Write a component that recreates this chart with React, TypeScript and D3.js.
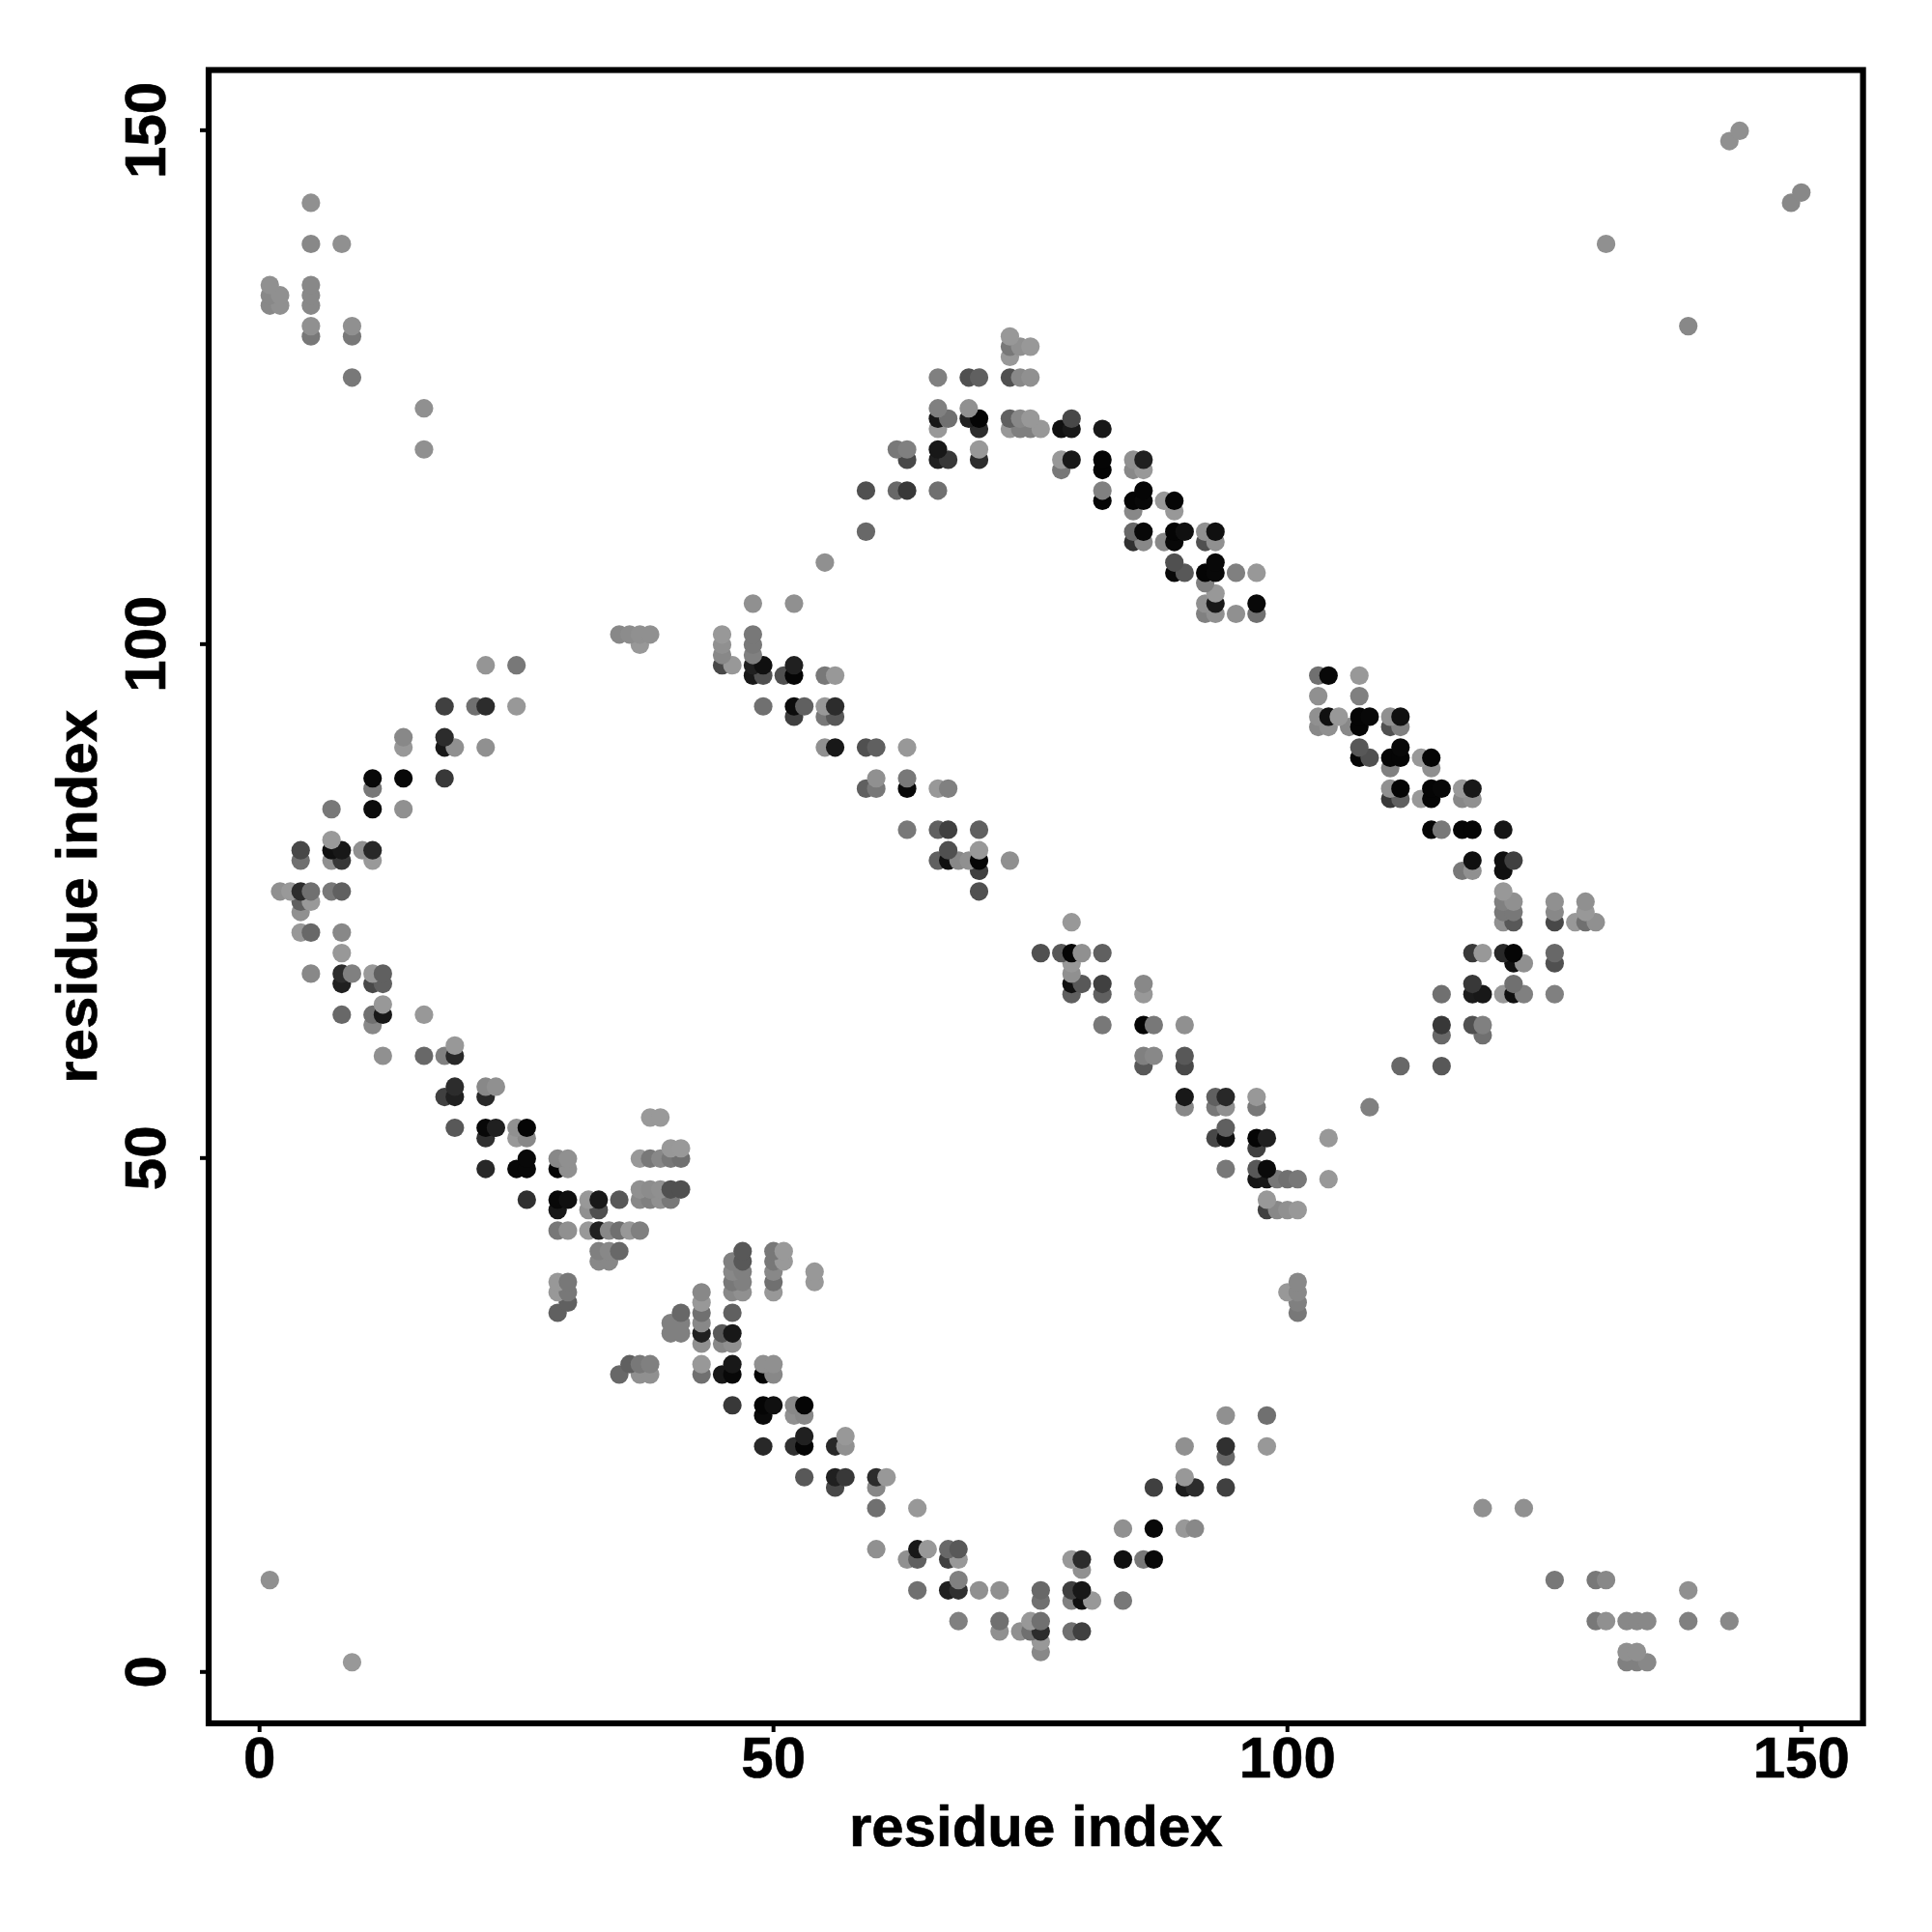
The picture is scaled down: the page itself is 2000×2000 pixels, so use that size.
import React from "react";
import * as d3 from "d3";

type Contact = [number, number, number]; // residue x, residue y, gray level

const xTickValues = [0, 50, 100, 150];
const yTickValues = [0, 50, 100, 150];
const xAxisLabel = "residue index";
const yAxisLabel = "residue index";

const cornerTopLeft: Contact[] = [
  [5,143,0x90],[5,139,0x88],[8,139,0x90],[1,135,0x90],[5,135,0x88],[1,134,0x88],[2,134,0x90],[5,134,0x88],
  [1,133,0x88],[2,133,0x90],[5,133,0x88],[5,131,0x90],[9,131,0x90],[5,130,0x78],[9,130,0x78],[9,126,0x78],
  [16,123,0x90],[16,119,0x90],
];
const cornerTopRight: Contact[] = [
  [131,139,0x90],[139,131,0x88],[143,149,0x90],[144,150,0x90],[149,143,0x88],[150,144,0x88],
];
const cornerBottomLeft: Contact[] = [[1,9,0x90],[9,1,0x98]];
const cornerBottomRight: Contact[] = [
  [119,16,0x90],[123,16,0x90],[126,9,0x78],[130,9,0x78],[131,9,0x88],[139,8,0x90],
  [130,5,0x78],[131,5,0x90],[133,5,0x88],[134,5,0x88],[135,5,0x88],[139,5,0x80],[143,5,0x88],
  [133,2,0x90],[134,2,0x90],[133,1,0x80],[134,1,0x80],[135,1,0x88],
];
const leftArmUpper: Contact[] = [
  [35,101,0x88],[36,101,0x8c],[37,101,0x90],[38,101,0x90],[37,100,0x98],
  [22,98,0x95],[25,98,0x78],[18,94,0x40],[21,94,0x70],[22,94,0x2c],[25,94,0x98],
  [14,91,0x88],[18,91,0x2c],[14,90,0x98],[18,90,0x18],[19,90,0x90],[22,90,0x90],
  [11,87,0x08],[14,87,0x08],[18,87,0x38],[11,86,0x78],[7,84,0x78],[11,84,0x0c],[14,84,0x90],
  [7,81,0x99],[4,80,0x48],[7,80,0x10],[8,80,0x18],[10,80,0x90],[11,80,0x28],
  [4,79,0x70],[7,79,0x90],[8,79,0x38],[11,79,0x99],
  [2,76,0x90],[3,76,0x99],[4,76,0x2c],[5,76,0x70],[7,76,0x78],[8,76,0x60],
  [4,75,0x60],[5,75,0x99],[4,74,0x90],[4,72,0x98],[5,72,0x68],[8,72,0x88],[8,70,0x98],
];
const leftArmLower: Contact[] = [
  [5,68,0x88],[8,68,0x2c],[9,68,0x80],[11,68,0x98],[12,68,0x60],[8,67,0x20],[11,67,0x48],[12,67,0x60],
  [12,65,0x98],[8,64,0x68],[11,64,0x70],[12,64,0x18],[16,64,0x98],[11,63,0x88],
  [19,61,0x98],[12,60,0x90],[16,60,0x68],[18,60,0x80],[19,60,0x28],
  [19,57,0x2c],[22,57,0x88],[23,57,0x90],[18,56,0x40],[19,56,0x20],[22,56,0x28],
];
const middleBand: Contact[] = [
  [38,54,0x99],[39,54,0x99],[19,53,0x58],[22,53,0x08],[23,53,0x20],[25,53,0x90],[26,53,0x05],
  [22,52,0x30],[25,52,0x98],[26,52,0x88],[40,51,0x98],[41,51,0x99],
  [26,50,0x08],[29,50,0x88],[30,50,0x90],[37,50,0x98],[38,50,0x78],[39,50,0x88],[40,50,0x78],[41,50,0x70],
  [22,49,0x28],[25,49,0x08],[26,49,0x08],[29,49,0x05],[30,49,0x90],
  [37,47,0x90],[38,47,0x8c],[39,47,0x90],[40,47,0x50],[41,47,0x50],
  [26,46,0x30],[29,46,0x08],[30,46,0x10],[32,46,0x98],[33,46,0x18],[35,46,0x58],[37,46,0x88],[38,46,0x80],[39,46,0x90],[40,46,0x78],
  [29,45,0x18],[32,45,0x90],[33,45,0x50],
  [29,43,0x78],[30,43,0x90],[32,43,0x98],[33,43,0x20],[34,43,0x88],[35,43,0x70],[36,43,0x98],[37,43,0x80],
  [33,41,0x80],[34,41,0x88],[35,41,0x68],[47,41,0x58],[50,41,0x78],[51,41,0x99],
  [33,40,0x88],[34,40,0x88],[46,40,0x80],[47,40,0x58],[50,40,0x78],[51,40,0x99],
  [46,39,0x88],[47,39,0x80],[50,39,0x88],[54,39,0x98],
  [29,38,0x98],[30,38,0x78],[46,38,0x78],[47,38,0x80],[50,38,0x70],[54,38,0x98],
  [29,37,0x98],[30,37,0x78],[43,37,0x88],[46,37,0x88],[47,37,0x90],[50,37,0x98],
  [30,36,0x60],[43,36,0x98],[29,35,0x60],[41,35,0x68],[43,35,0x70],[46,35,0x60],
  [40,34,0x80],[41,34,0x80],[43,34,0x88],
  [40,33,0x80],[41,33,0x80],[43,33,0x20],[45,33,0x58],[46,33,0x18],
  [43,32,0x90],[45,32,0x88],[46,32,0x90],
  [36,30,0x60],[37,30,0x78],[38,30,0x80],[43,30,0x98],[46,30,0x18],[49,30,0x90],[50,30,0x90],
  [35,29,0x68],[37,29,0x90],[38,29,0x90],[43,29,0x70],[45,29,0x18],[46,29,0x08],[49,29,0x05],[50,29,0x88],
];
const bottomArm: Contact[] = [
  [46,26,0x38],[49,26,0x05],[50,26,0x10],[52,26,0x88],[53,26,0x05],[49,25,0x0a],[52,25,0x90],[53,25,0x88],
  [53,23,0x20],[57,23,0x98],[49,22,0x28],[52,22,0x30],[53,22,0x05],[56,22,0x28],[57,22,0x90],
  [53,19,0x58],[56,19,0x20],[57,19,0x38],[60,19,0x2c],[61,19,0x98],[56,18,0x48],[60,18,0x88],
  [60,16,0x70],[64,16,0x98],
  [60,12,0x90],[64,12,0x18],[65,12,0x98],[67,12,0x68],[68,12,0x58],
  [63,11,0x90],[64,11,0x60],[67,11,0x40],[68,11,0x98],[79,11,0x98],[80,11,0x2c],
  [80,10,0x90],[68,9,0x80],
  [64,8,0x70],[67,8,0x20],[68,8,0x30],[70,8,0x90],[72,8,0x90],[76,8,0x68],[79,8,0x40],[80,8,0x18],
  [76,7,0x70],[79,7,0x80],[80,7,0x10],[81,7,0x98],[84,7,0x78],
  [68,5,0x80],[72,5,0x70],[75,5,0x98],[76,5,0x70],
  [72,4,0x90],[74,4,0x90],[75,4,0x70],[76,4,0x2c],[79,4,0x70],[80,4,0x40],
  [76,3,0x98],[76,2,0x88],
];
const bottomRise: Contact[] = [
  [94,25,0x90],[98,25,0x70],[90,22,0x90],[94,22,0x30],[98,22,0x98],[94,21,0x68],[90,19,0x98],
  [87,18,0x40],[90,18,0x1c],[91,18,0x2c],[94,18,0x40],
  [84,14,0x90],[87,14,0x08],[90,14,0x98],[91,14,0x88],[84,11,0x10],[86,11,0x78],[87,11,0x08],
];
const topArm: Contact[] = [
  [73,130,0x98],[73,129,0x78],[74,129,0x90],[75,129,0x98],[73,128,0x98],
  [66,126,0x80],[69,126,0x50],[70,126,0x60],[73,126,0x50],[74,126,0x88],[75,126,0x90],
  [66,123,0x80],[69,123,0x90],
  [66,122,0x18],[67,122,0x70],[69,122,0x20],[70,122,0x05],[73,122,0x60],[74,122,0x88],[75,122,0x98],[79,122,0x48],
  [66,121,0x98],[70,121,0x2c],[73,121,0x98],[74,121,0x80],[75,121,0x80],[76,121,0x98],[78,121,0x10],[79,121,0x18],[82,121,0x18],
  [62,119,0x78],[63,119,0x80],[66,119,0x18],[70,119,0x98],
  [63,118,0x48],[66,118,0x20],[67,118,0x38],[70,118,0x2c],[78,118,0x98],[79,118,0x18],[82,118,0x05],[85,118,0x90],[86,118,0x20],
  [78,117,0x78],[82,117,0x05],[85,117,0x88],[86,117,0x98],
  [59,115,0x50],[62,115,0x68],[63,115,0x38],[66,115,0x70],[82,115,0x80],[86,115,0x05],
  [82,114,0x05],[85,114,0x05],[86,114,0x08],[88,114,0x98],[89,114,0x05],[85,113,0x88],[89,113,0x98],
  [59,111,0x68],[85,111,0x68],[86,111,0x08],[89,111,0x05],[90,111,0x10],[92,111,0x90],[93,111,0x10],
  [85,110,0x30],[86,110,0x88],[88,110,0x88],[89,110,0x08],[92,110,0x50],[93,110,0x90],
  [55,108,0x90],[89,108,0x50],[93,108,0x08],
  [89,107,0x08],[90,107,0x58],[92,107,0x05],[93,107,0x08],[95,107,0x80],[97,107,0x98],
  [92,106,0x80],[93,105,0x98],[48,104,0x90],[52,104,0x90],[92,104,0x90],[93,104,0x18],[97,104,0x08],
  [92,103,0x80],[93,103,0x90],[95,103,0x90],[97,103,0x70],
];
const rightArm: Contact[] = [
  [103,97,0x70],[104,97,0x08],[107,97,0x98],[103,95,0x90],[107,95,0x80],
  [103,93,0x90],[104,93,0x10],[105,93,0x98],[107,93,0x05],[108,93,0x08],[110,93,0x90],[111,93,0x10],
  [103,92,0x88],[104,92,0x90],[106,92,0x88],[107,92,0x05],[110,92,0x50],[111,92,0x80],
  [107,90,0x58],[111,90,0x08],
  [107,89,0x05],[108,89,0x50],[110,89,0x05],[111,89,0x05],[113,89,0x98],[114,89,0x05],
  [110,88,0x80],[114,88,0x90],
  [110,86,0x90],[111,86,0x05],[114,86,0x05],[115,86,0x08],[117,86,0x98],[118,86,0x18],
  [110,85,0x38],[111,85,0x60],[113,85,0x98],[114,85,0x05],[117,85,0x88],[118,85,0x90],
  [114,82,0x05],[115,82,0x78],[117,82,0x05],[118,82,0x05],[121,82,0x15],
  [118,79,0x10],[121,79,0x10],[122,79,0x40],[117,78,0x78],[118,78,0x90],[121,78,0x10],
  [121,76,0x98],[121,75,0x80],[122,75,0x90],[126,75,0x90],[129,75,0x90],
  [121,74,0x78],[122,74,0x78],[126,74,0x88],[129,74,0x98],
  [121,73,0x90],[122,73,0x58],[126,73,0x48],[128,73,0x98],[129,73,0x70],[130,73,0x90],
  [118,70,0x38],[119,70,0x98],[121,70,0x28],[122,70,0x05],[126,70,0x68],
  [122,69,0x10],[123,69,0x90],[126,69,0x50],[118,67,0x38],[122,67,0x70],
  [115,66,0x70],[118,66,0x1c],[119,66,0x18],[121,66,0x98],[122,66,0x10],[123,66,0x80],[126,66,0x80],
  [115,63,0x38],[118,63,0x50],[119,63,0x80],[115,62,0x68],[119,62,0x70],[111,59,0x68],[115,59,0x58],
];
const centerUpper: Contact[] = [
  [45,101,0x98],[48,101,0x78],[45,100,0x90],[48,100,0x78],[45,99,0x88],[48,99,0x80],
  [45,98,0x48],[46,98,0x98],[48,98,0x20],[49,98,0x10],[52,98,0x20],
  [48,97,0x18],[49,97,0x50],[51,97,0x50],[52,97,0x05],[55,97,0x78],[56,97,0x98],
  [49,94,0x70],[52,94,0x0c],[53,94,0x60],[55,94,0x98],[56,94,0x2c],[52,93,0x40],[55,93,0x78],[56,93,0x58],
  [55,90,0x90],[56,90,0x18],[59,90,0x50],[60,90,0x60],[63,90,0x98],
  [60,87,0x90],[63,87,0x78],[59,86,0x60],[60,86,0x78],[63,86,0x08],[66,86,0x98],[67,86,0x80],
  [63,82,0x78],[66,82,0x60],[67,82,0x40],[70,82,0x60],[67,80,0x50],[70,80,0x98],
  [66,79,0x60],[67,79,0x10],[68,79,0x88],[69,79,0x90],[70,79,0x05],[73,79,0x90],
  [70,78,0x40],[70,76,0x50],
];
const centerLower: Contact[] = [
  [79,73,0x98],[76,70,0x50],[78,70,0x58],[79,70,0x05],[80,70,0x90],[82,70,0x60],
  [79,69,0x98],[79,68,0x90],[79,67,0x10],[80,67,0x58],[82,67,0x40],[86,67,0x88],
  [79,66,0x60],[82,66,0x60],[86,66,0x98],
  [82,63,0x78],[86,63,0x05],[87,63,0x78],[90,63,0x90],
  [86,60,0x80],[87,60,0x88],[90,60,0x58],[86,59,0x58],[90,59,0x48],
  [90,56,0x18],[93,56,0x60],[94,56,0x28],[97,56,0x98],[90,55,0x88],[93,55,0x78],[94,55,0x90],[97,55,0x78],[108,55,0x80],
  [94,53,0x60],[93,52,0x48],[94,52,0x10],[97,52,0x05],[98,52,0x20],[104,52,0x98],[97,51,0x40],
  [94,49,0x78],[97,49,0x58],[98,49,0x0a],
  [97,48,0x15],[98,48,0x18],[99,48,0x78],[100,48,0x70],[101,48,0x78],[104,48,0x98],
  [98,46,0x98],[98,45,0x40],[99,45,0x88],[100,45,0x90],[101,45,0x98],
  [101,38,0x88],[100,37,0x98],[101,37,0x88],[101,36,0x80],[101,35,0x78],
];

const contacts: Contact[] = Array.from(
  new Map(
    [
      ...cornerTopLeft, ...cornerTopRight, ...cornerBottomLeft, ...cornerBottomRight,
      ...leftArmUpper, ...leftArmLower, ...middleBand, ...bottomArm, ...bottomRise,
      ...topArm, ...rightArm, ...centerUpper, ...centerLower,
    ].map((c) => [`${c[0]}_${c[1]}`, c] as [string, Contact])
  ).values()
).sort((a, b) => d3.ascending(a[1], b[1]) || d3.ascending(a[0], b[0]));

const frame = { left: 216, right: 1928.6, top: 72.5, bottom: 1784 };
const x = d3.scaleLinear().domain([-4.95, 156]).range([frame.left, frame.right]);
const y = d3.scaleLinear().domain([-5, 156]).range([frame.bottom, 71]);
const font = "'Liberation Sans', Arial, sans-serif";

export default function App() {
  return (
    <svg
      width={2000}
      height={2000}
      viewBox="0 0 2000 2000"
      style={{ position: "absolute", left: 0, top: 0, background: "#fff" }}
    >
      <g transform="translate(0,0.6)">
        {contacts.map(([cx, cy, g]) => (
          <circle key={`${cx}_${cy}`} cx={x(cx)} cy={y(cy)} r={9.6} fill={d3.rgb(g, g, g).formatHex()} />
        ))}
      </g>
      <rect
        x={frame.left}
        y={frame.top}
        width={frame.right - frame.left}
        height={frame.bottom - frame.top}
        fill="none"
        stroke="#000"
        strokeWidth={6.2}
      />
      <g fontFamily={font} fontWeight="bold" fontSize={60} fill="#000" stroke="#000" strokeWidth={0.6}>
        {xTickValues.map((t) => (
          <g key={`x${t}`}>
            <line x1={x(t)} x2={x(t)} y1={frame.bottom} y2={frame.bottom + 9} stroke="#000" strokeWidth={4} />
            <text x={x(t)} y={1840} textAnchor="middle">{t}</text>
          </g>
        ))}
        {yTickValues.map((t) => (
          <g key={`y${t}`}>
            <line x1={frame.left - 9} x2={frame.left} y1={y(t)} y2={y(t)} stroke="#000" strokeWidth={4} />
            <text transform={`translate(171,${y(t)}) rotate(-90)`} textAnchor="middle">{t}</text>
          </g>
        ))}
        <text x={(frame.left + frame.right) / 2} y={1911} textAnchor="middle">{xAxisLabel}</text>
        <text transform={`translate(100,${(frame.top + frame.bottom) / 2}) rotate(-90)`} textAnchor="middle">{yAxisLabel}</text>
      </g>
    </svg>
  );
}
